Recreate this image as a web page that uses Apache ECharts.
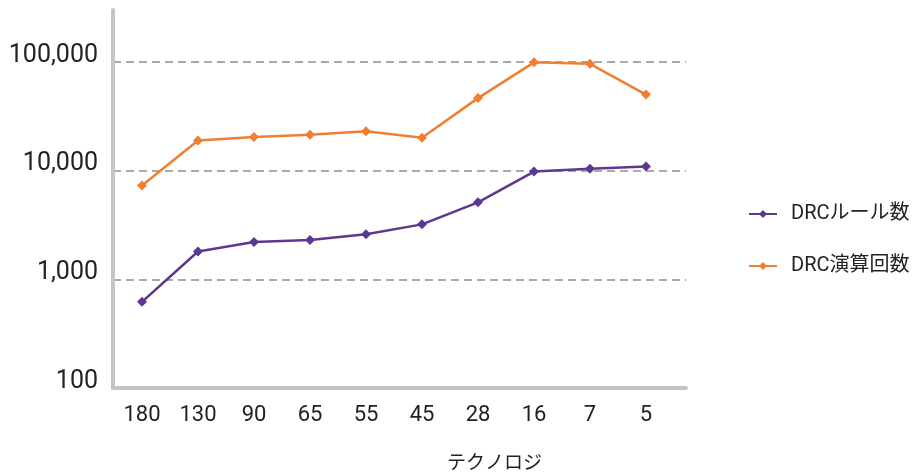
<!DOCTYPE html>
<html>
<head>
<meta charset="utf-8">
<script src="https://cdn.jsdelivr.net/npm/echarts@6/dist/echarts.min.js"></script>
<style>
  html, body { margin: 0; padding: 0; background: #fff; }
  #chart { width: 914px; height: 474px; }
</style>
</head>
<body>
<div id="chart"></div>
<script>
// Process nodes (nm)
const technologies = ['180', '130', '90', '65', '55', '45', '28', '16', '7', '5'];
// Number of DRC rules per node
const drcRules = [620, 1800, 2200, 2300, 2600, 3200, 5100, 9800, 10400, 10900];
// Number of DRC operations per node
const drcOps = [7300, 18900, 20400, 21400, 23000, 20000, 46400, 99000, 96000, 50000];

const seriesNames = ['DRCルール数', 'DRC演算回数'];
const xAxisTitle = 'テクノロジ';

const FONT = 'Roboto, "Noto Sans CJK JP", sans-serif';
const AXIS_GRAY = '#c1c4c9';
const PURPLE = '#5d3891';
const ORANGE = '#ef7f33';
const Y_MIN = 100;
const Y_MAX = 300000;

const chart = echarts.init(document.getElementById('chart'), null, { renderer: 'canvas' });

chart.setOption({
  animation: false,
  textStyle: { fontFamily: FONT },
  title: {
    text: xAxisTitle,
    left: 447,
    top: 455,
    padding: 0,
    textStyle: { fontFamily: FONT, fontSize: 19, fontWeight: 'normal', color: '#222' }
  },
  legend: {
    orient: 'vertical',
    left: 748,
    top: 204,
    padding: 0,
    itemGap: 32,
    itemWidth: 28,
    itemHeight: 10,
    data: seriesNames,
    textStyle: { fontFamily: FONT, fontSize: 20, color: '#222', padding: [0, 0, 0, 9] }
  },
  grid: [
    // frame: axis lines and gridlines
    { left: 113, right: 228, top: 10, bottom: 86 },
    // data area
    { left: 114, right: 240, top: 10, bottom: 86 }
  ],
  xAxis: [
    {
      gridIndex: 0,
      type: 'category',
      data: [''],
      axisLine: { show: true, lineStyle: { color: AXIS_GRAY, width: 4 } },
      axisTick: { show: false },
      axisLabel: { show: false },
      splitLine: { show: false }
    },
    {
      gridIndex: 1,
      type: 'category',
      data: technologies,
      boundaryGap: true,
      axisLine: { show: false },
      axisTick: { show: false },
      axisLabel: { margin: 16, fontSize: 22, color: '#222', fontFamily: FONT }
    }
  ],
  yAxis: [
    {
      gridIndex: 0,
      type: 'log',
      logBase: 10,
      min: Y_MIN,
      max: Y_MAX,
      axisLine: { show: true, lineStyle: { color: AXIS_GRAY, width: 4 } },
      axisTick: { show: false },
      axisLabel: {
        margin: 15,
        fontSize: 25,
        color: '#222',
        fontFamily: FONT,
        verticalAlign: 'bottom',
        lineHeight: 13,
        showMaxLabel: false,
        formatter: function (v) {
          const e = Math.log10(v);
          if (Math.abs(e - Math.round(e)) > 1e-6) return '';
          return Math.round(v).toLocaleString('en-US');
        }
      },
      splitLine: {
        show: true,
        showMinLine: false,
        showMaxLine: false,
        lineStyle: { color: '#a9a9a9', width: 2, type: [8, 5] }
      }
    },
    {
      gridIndex: 1,
      type: 'log',
      logBase: 10,
      min: Y_MIN,
      max: Y_MAX,
      show: false,
      splitLine: { show: false }
    }
  ],
  series: [
    {
      name: seriesNames[0],
      type: 'line',
      xAxisIndex: 1,
      yAxisIndex: 1,
      data: drcRules,
      symbol: 'diamond',
      symbolSize: 10,
      itemStyle: { color: PURPLE },
      lineStyle: { color: PURPLE, width: 2.5 },
      z: 4
    },
    {
      name: seriesNames[1],
      type: 'line',
      xAxisIndex: 1,
      yAxisIndex: 1,
      data: drcOps,
      symbol: 'diamond',
      symbolSize: 10,
      itemStyle: { color: ORANGE },
      lineStyle: { color: ORANGE, width: 2.5 },
      z: 3
    }
  ]
});
</script>
</body>
</html>
